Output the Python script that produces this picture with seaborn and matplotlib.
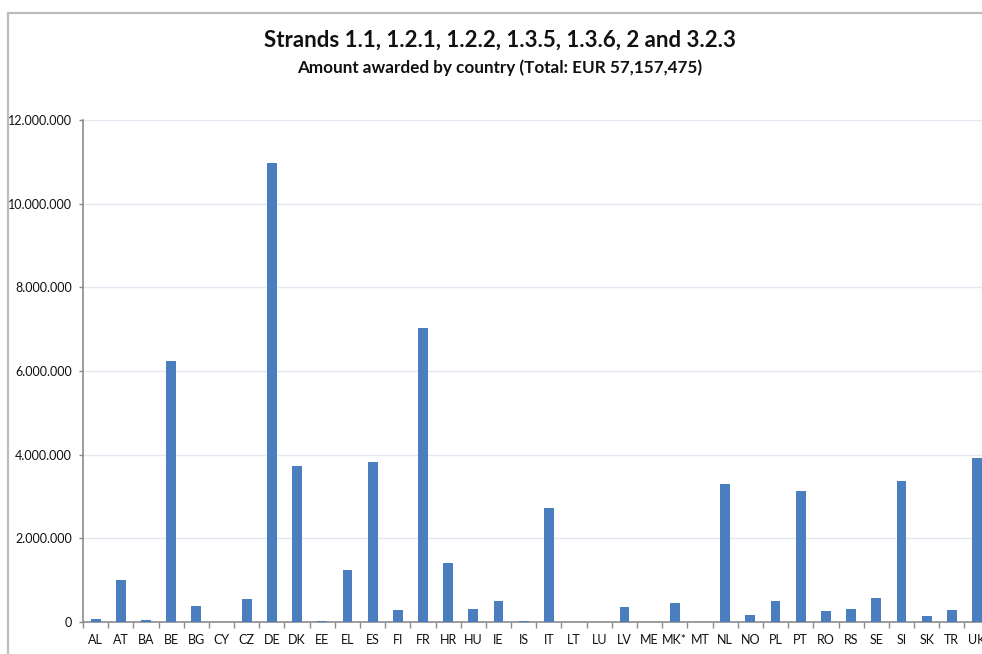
import matplotlib
matplotlib.use("Agg")
import matplotlib.pyplot as plt
from matplotlib.patches import Rectangle
from matplotlib.ticker import FuncFormatter, FixedLocator
import seaborn as sns
import pandas as pd
import numpy as np

countries = ["AL", "AT", "BA", "BE", "BG", "CY", "CZ", "DE", "DK", "EE",
             "EL", "ES", "FI", "FR", "HR", "HU", "IE", "IS", "IT", "LT",
             "LU", "LV", "ME", "MK*", "MT", "NL", "NO", "PL", "PT", "RO",
             "RS", "SE", "SI", "SK", "TR", "UK"]
amounts = [72000, 1013000, 38000, 6240000, 374000, 0, 551000, 10970000, 3740000, 30000,
           1250000, 3820000, 278000, 7020000, 1420000, 311000, 503000, 30000, 2720000, 10000,
           0, 350000, 0, 462000, 0, 3290000, 168000, 503000, 3120000, 263000,
           311000, 582000, 3370000, 151000, 278000, 3920000]
y_ticks = [0, 2000000, 4000000, 6000000, 8000000, 10000000, 12000000]

title = "Strands 1.1, 1.2.1, 1.2.2, 1.3.5, 1.3.6, 2 and 3.2.3"
subtitle = "Amount awarded by country (Total: EUR 57,157,475)"

df = pd.DataFrame({"country": countries, "amount": amounts})

sns.set_style("white")
plt.rcParams["font.family"] = ["Lato", "DejaVu Sans"]

W, H = 982, 654
fig = plt.figure(figsize=(W / 100, H / 100), dpi=100)

# outer chart frame (runs off the right and bottom edges)
frame = Rectangle((8 / W, -0.2), 1.5, (H - 13) / H + 0.2, transform=fig.transFigure,
                  fill=False, edgecolor="#BDBDBD", linewidth=1.6, zorder=0)
fig.patches.append(frame)

ax_left, ax_right = 83, 989.6
ax_top, ax_bottom = 120, 622
ax = fig.add_axes([ax_left / W, 1 - ax_bottom / H,
                   (ax_right - ax_left) / W, (ax_bottom - ax_top) / H])

sns.barplot(data=df, x="country", y="amount", color="#4A7EBF", saturation=1,
            width=0.39, linewidth=0, ax=ax, zorder=3)

ax.set_xlim(-0.5, len(countries) - 0.5)
ax.set_ylim(0, 12000000)
ax.set_yticks(y_ticks)
ax.yaxis.set_major_formatter(FuncFormatter(lambda v, p: f"{int(v):,}".replace(",", ".")))
ax.grid(axis="y", color="#E2E7F1", linewidth=1.0, zorder=0)
ax.set_axisbelow(True)

ax.set_xlabel("")
ax.set_ylabel("")
ax.xaxis.set_minor_locator(FixedLocator(np.arange(-0.5, len(countries), 1.0)))
ax.tick_params(axis="x", which="both", bottom=True)
ax.tick_params(axis="y", which="both", left=True)
ax.tick_params(axis="x", which="major", length=0, pad=9, labelsize=9, labelcolor="#111111")
ax.tick_params(axis="x", which="minor", length=4, width=1, color="#8C8C8C", direction="out")
ax.tick_params(axis="y", which="major", length=3, width=1, color="#8C8C8C", pad=5,
               labelsize=9, labelcolor="#111111", direction="out")

for side in ["top", "right"]:
    ax.spines[side].set_visible(False)
for side in ["left", "bottom"]:
    ax.spines[side].set_color("#8C8C8C")
    ax.spines[side].set_linewidth(1.2)

fig.text(500 / W, 1 - 40 / H, title, ha="center", va="center",
         fontsize=16, fontweight="bold", color="#111111")
fig.text(500 / W, 1 - 68 / H, subtitle, ha="center", va="center",
         fontsize=12.3, fontweight="bold", color="#111111")

fig.savefig("out.png", dpi=100)
